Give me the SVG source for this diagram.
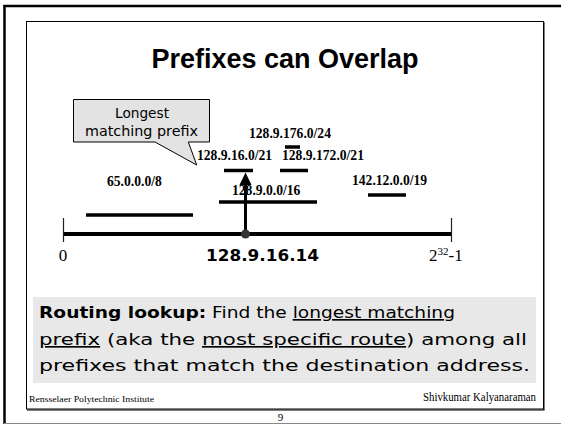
<svg xmlns="http://www.w3.org/2000/svg" width="561" height="426" viewBox="0 0 561 426">
<style>
.lbl{font-family:"Liberation Serif",serif;font-weight:bold;font-size:13.6px;fill:#000}
.seg{stroke:#000;stroke-width:3.5;fill:none}
.body{font-family:"DejaVu Sans",sans-serif;font-size:16.5px;fill:#000}
.u{text-decoration:underline}
</style>
<rect width="561" height="426" fill="#fff"/>
<g id="frame">
<line x1="4.5" y1="5" x2="4.5" y2="424" stroke="#000" stroke-width="2.5"/>
<line x1="3.5" y1="6" x2="561" y2="6" stroke="#000" stroke-width="2.5"/>
<line x1="4" y1="423.5" x2="561" y2="423.5" stroke="#888" stroke-width="1"/>
<rect x="26.5" y="21.5" width="517" height="387.5" fill="none" stroke="#000" stroke-width="1"/>
<line x1="544" y1="22" x2="544" y2="410" stroke="#000" stroke-width="1"/>
<line x1="27" y1="410" x2="544.5" y2="410" stroke="#000" stroke-width="1"/>
</g>
<text id="title" x="285" y="68" text-anchor="middle" font-family="'Liberation Sans',Arial,sans-serif" font-weight="bold" font-size="27">Prefixes can Overlap</text>
<g id="axis">
<line x1="63" y1="234" x2="452" y2="234" stroke="#000" stroke-width="4"/>
<line x1="63.5" y1="218" x2="63.5" y2="242" stroke="#222" stroke-width="1.2"/>
<line x1="451.5" y1="218" x2="451.5" y2="242" stroke="#222" stroke-width="1.2"/>
<text x="63" y="261" text-anchor="middle" font-family="'Liberation Serif',serif" font-size="17">0</text>
<text x="429" y="261" font-family="'Liberation Serif',serif" font-size="17">2<tspan font-size="11" dy="-6">32</tspan><tspan dy="6">-1</tspan></text>
<text x="262.5" y="261" text-anchor="middle" font-family="'DejaVu Sans',sans-serif" font-weight="bold" font-size="15" textLength="113" lengthAdjust="spacingAndGlyphs">128.9.16.14</text>
</g>
<g id="p65">
<line class="seg" x1="86" y1="215" x2="193" y2="215"/>
<text class="lbl" x="107" y="186">65.0.0.0/8</text>
</g>
<g id="p128_9_0_0">
<line class="seg" x1="219" y1="202" x2="317" y2="202"/>
<text class="lbl" x="232" y="195">128.9.0.0/16</text>
</g>
<g id="p128_9_16_0">
<line class="seg" x1="224" y1="170.5" x2="253" y2="170.5"/>
<text class="lbl" x="197" y="160">128.9.16.0/21</text>
</g>
<g id="p128_9_172_0">
<line class="seg" x1="280" y1="170.5" x2="308" y2="170.5"/>
<text class="lbl" x="282" y="160">128.9.172.0/21</text>
</g>
<g id="p128_9_176_0">
<line class="seg" x1="285" y1="147" x2="300" y2="147"/>
<text class="lbl" x="249" y="138">128.9.176.0/24</text>
</g>
<g id="p142">
<line class="seg" x1="368" y1="195" x2="406" y2="195"/>
<text class="lbl" x="352" y="185">142.12.0.0/19</text>
</g>
<g id="connectors">
<line x1="245.5" y1="233" x2="245.5" y2="183" stroke="#000" stroke-width="3"/>
<polygon points="245.5,172.5 239.5,185 251.5,185" fill="#000"/>
<circle cx="245.5" cy="234" r="4.5" fill="#333"/>
</g>
<g id="callout">
<path d="M73.5,99.5 H209.5 V142 H188.3 L196.7,165 L155,142 H73.5 Z" fill="#e3e3e3" stroke="#000" stroke-width="1"/>
<text x="142" y="118" text-anchor="middle" font-family="'DejaVu Sans',sans-serif" font-size="14.5" textLength="54" lengthAdjust="spacingAndGlyphs">Longest</text>
<text x="141.5" y="136" text-anchor="middle" font-family="'DejaVu Sans',sans-serif" font-size="14.5" textLength="113" lengthAdjust="spacingAndGlyphs">matching prefix</text>
</g>
<g id="note">
<rect x="33" y="297" width="503" height="86" fill="#e8e8e8"/>
<text class="body" x="39" y="318" textLength="416" lengthAdjust="spacingAndGlyphs"><tspan font-weight="bold">Routing lookup:</tspan> Find the <tspan class="u">longest matching</tspan></text>
<text class="body" x="39" y="345" textLength="488" lengthAdjust="spacingAndGlyphs"><tspan class="u">prefix</tspan> (aka the <tspan class="u">most specific route</tspan>) among all</text>
<text class="body" x="39" y="371" textLength="491" lengthAdjust="spacingAndGlyphs">prefixes that match the destination address.</text>
</g>
<g id="footer">
<text x="29" y="402" font-family="'Liberation Serif',serif" font-size="9" textLength="125" lengthAdjust="spacingAndGlyphs">Rensselaer Polytechnic Institute</text>
<text x="536" y="401" text-anchor="end" font-family="'Liberation Serif',serif" font-size="13" textLength="113" lengthAdjust="spacingAndGlyphs">Shivkumar Kalyanaraman</text>
<text x="280.5" y="421" text-anchor="middle" font-family="'Liberation Serif',serif" font-size="11">9</text>
</g>
</svg>
